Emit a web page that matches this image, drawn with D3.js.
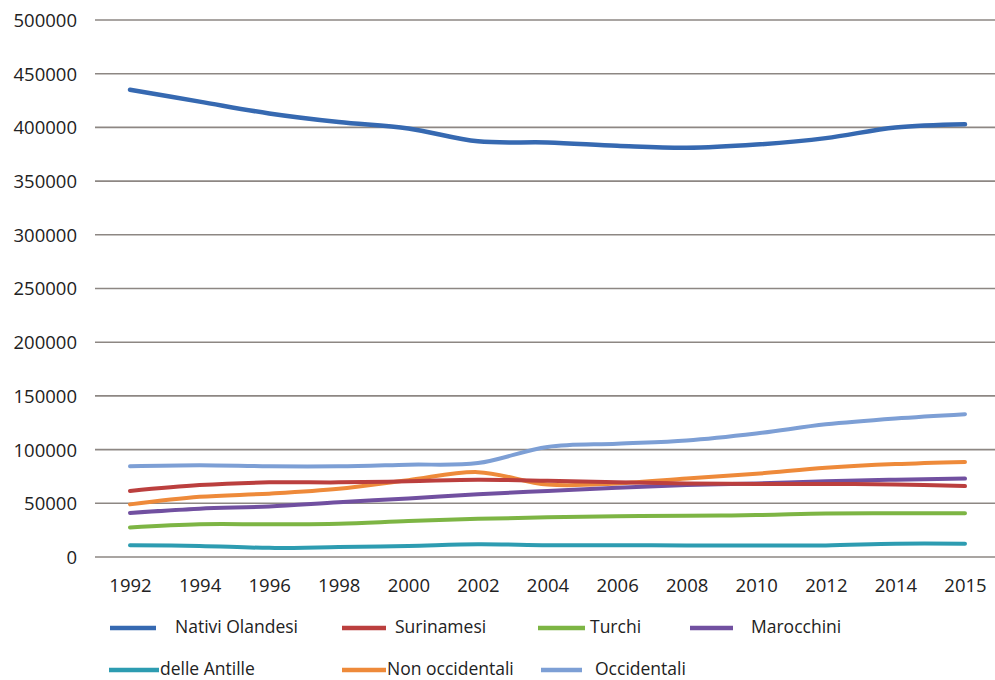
<!DOCTYPE html>
<html>
<head>
<meta charset="utf-8">
<script src="https://cdn.jsdelivr.net/npm/d3@7"></script>
<style>
  html, body { margin: 0; padding: 0; background: #ffffff; }
  svg { display: block; }
  text { font-family: "Open Sans", "Liberation Sans", sans-serif; fill: #222222; }
</style>
</head>
<body>
<svg id="chart" width="995" height="680"></svg>
<script>
// Population by group, 1992–2015
const years = ["1992","1994","1996","1998","2000","2002","2004","2006","2008","2010","2012","2014","2015"];
const yTicks = [0, 50000, 100000, 150000, 200000, 250000, 300000, 350000, 400000, 450000, 500000];

const nativiOlandesi = [435000, 424000, 413000, 405000, 399000, 387000, 386000, 383000, 381000, 384000, 390000, 400000, 403000];
const surinamesi     = [61500, 67000, 69500, 69500, 70500, 72000, 71000, 69500, 68500, 68000, 68000, 67500, 66000];
const turchi         = [27500, 30500, 30500, 31000, 33500, 35500, 37000, 38000, 38500, 39000, 40500, 40700, 40700];
const marocchini     = [41000, 45000, 47000, 51000, 54500, 58500, 61500, 64500, 67000, 68500, 70500, 72000, 73000];
const delleAntille   = [11000, 10300, 8500, 9300, 10300, 11800, 11000, 11000, 10800, 10800, 10800, 12400, 12400];
const nonOccidentali = [49000, 56000, 59000, 63500, 71500, 79000, 67500, 68500, 73000, 77500, 83000, 86500, 88500];
const occidentali    = [84500, 85500, 84500, 84500, 86000, 87500, 102500, 105500, 108500, 115000, 123500, 129000, 133000];

const seriesNames  = ["Nativi Olandesi", "Surinamesi", "Turchi", "Marocchini", "delle Antille", "Non occidentali", "Occidentali"];
const seriesValues = [nativiOlandesi, surinamesi, turchi, marocchini, delleAntille, nonOccidentali, occidentali];
const seriesColors = ["#3669b1", "#bb3f3e", "#7db544", "#7150a0", "#2d9cb1", "#ee8a3a", "#7d9fd5"];

const svg = d3.select("#chart");

const x = d3.scalePoint().domain(years).range([130, 965]);
const y = d3.scaleLinear().domain([0, 500000]).range([557, 20]);

// horizontal gridlines
svg.append("g")
  .selectAll("line")
  .data(yTicks)
  .join("line")
  .attr("x1", 95).attr("x2", 995)
  .attr("y1", d => y(d)).attr("y2", d => y(d))
  .attr("stroke", "#8d8783")
  .attr("stroke-width", 1.6);

// y axis labels
const yAxis = d3.axisLeft(y).tickValues(yTicks).tickSize(0).tickPadding(0).tickFormat(d3.format("d"));
svg.append("g")
  .attr("transform", "translate(77,0)")
  .call(yAxis)
  .call(g => g.select(".domain").remove())
  .call(g => g.selectAll("text")
    .attr("font-size", 18.5)
    .attr("font-family", "\"Open Sans\", sans-serif")
    .attr("fill", "#222222")
    .attr("dy", "0.35em"));

// x axis labels
const xAxis = d3.axisBottom(x).tickSize(0).tickPadding(0);
svg.append("g")
  .attr("transform", "translate(0,586)")
  .call(xAxis)
  .call(g => g.select(".domain").remove())
  .call(g => g.selectAll("text")
    .attr("font-size", 18.5)
    .attr("font-family", "\"Open Sans\", sans-serif")
    .attr("fill", "#222222")
    .attr("y", 0)
    .attr("dy", "0.35em"));

// series lines
const line = d3.line()
  .x((d, i) => x(years[i]))
  .y(d => y(d))
  .curve(d3.curveCatmullRom.alpha(0.5));

const drawOrder = [6, 5, 4, 3, 2, 1, 0];
svg.append("g")
  .selectAll("path")
  .data(drawOrder)
  .join("path")
  .attr("d", k => line(seriesValues[k]))
  .attr("fill", "none")
  .attr("stroke", k => seriesColors[k])
  .attr("stroke-width", k => k === 0 ? 4.5 : 4)
  .attr("stroke-linecap", "round")
  .attr("stroke-linejoin", "round");

// legend
const legendItems = [
  { k: 0, sx: 110, sw: 46, tx: 175, ty: 627 },
  { k: 1, sx: 342, sw: 44, tx: 395, ty: 627 },
  { k: 2, sx: 538, sw: 47, tx: 590, ty: 627 },
  { k: 3, sx: 690, sw: 43, tx: 751, ty: 627 },
  { k: 4, sx: 109, sw: 50, tx: 160, ty: 669 },
  { k: 5, sx: 342, sw: 44, tx: 387, ty: 669 },
  { k: 6, sx: 541, sw: 41, tx: 595, ty: 669 }
];
const lg = svg.append("g");
lg.selectAll("line")
  .data(legendItems)
  .join("line")
  .attr("x1", d => d.sx).attr("x2", d => d.sx + d.sw)
  .attr("y1", d => d.ty + 1).attr("y2", d => d.ty + 1)
  .attr("stroke", d => seriesColors[d.k])
  .attr("stroke-width", 4.5);
lg.selectAll("text")
  .data(legendItems)
  .join("text")
  .attr("x", d => d.tx)
  .attr("y", d => d.ty)
  .attr("dy", "0.35em")
  .attr("font-size", 17.5)
  .text(d => seriesNames[d.k]);
</script>
</body>
</html>
